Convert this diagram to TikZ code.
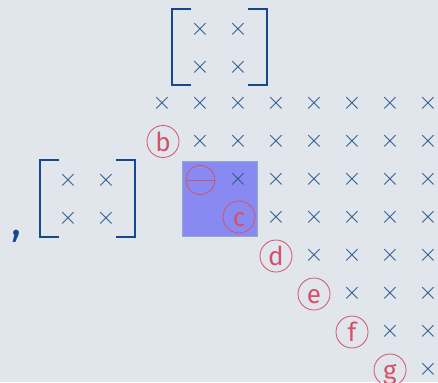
\documentclass[tikz,border=0pt]{standalone}
\usepackage{fontspec}
\setmainfont{Fira Sans}
\definecolor{bgc}{RGB}{225,230,237}
\definecolor{crossc}{RGB}{40,88,140}
\definecolor{brackc}{RGB}{22,72,140}
\definecolor{redc}{RGB}{212,82,104}
\definecolor{fillc}{RGB}{136,138,242}
\definecolor{edgec}{RGB}{150,168,200}
\tikzset{
  crs/.style={text=crossc, font=\fontsize{28}{30}\selectfont, inner sep=0pt},
  circlab/.style={circle, draw=redc, text=redc, line width=0.8pt, minimum size=32pt, inner sep=0pt,
    font=\fontsize{26}{30}\selectfont, text height=19pt, text depth=0pt},
  brk/.style={draw=brackc, line width=2pt},
}
\begin{document}
\begin{tikzpicture}[x=1pt,y=-1pt]
\fill[bgc] (0,0) rectangle (438,382);
\useasboundingbox (0,0) rectangle (438,382);
% highlighted block
\filldraw[fill=fillc, draw=edgec, line width=0.8pt] (182,161) rectangle (257,236);
% main grid crosses
\foreach \r in {0,...,7}{
  \foreach \c in {\r,...,7}{
    \node[crs] (x\r\c) at ({162+38*\c},{103+38.1*\r}) {$\times$};
  }
}
% circled labels
\node[circlab] (lb) at (163,141.5) {b};
\node[circle, draw=redc, line width=0.8pt, minimum size=29pt, inner sep=0pt] (lminus) at (200.5,180) {};
\draw[redc, line width=0.8pt] (lminus.west) -- (lminus.east);
\node[circlab] (lc) at (239,217) {c};
\node[circlab] (ld) at (276,256) {d};
\node[circlab] (le) at (314,294) {e};
\node[circlab] (lf) at (352,332) {f};
\node[circlab] (lg) at (390,370) {g};
% top matrix
\node[crs] (t11) at (200,29) {$\times$};
\node[crs] (t12) at (238,29) {$\times$};
\node[crs] (t21) at (200,67) {$\times$};
\node[crs] (t22) at (238,67) {$\times$};
\draw[brk] (191,9) -- (172,9) -- (172,85) -- (191,85);
\draw[brk] (248,9) -- (267,9) -- (267,85) -- (248,85);
% left matrix
\node[crs] (l11) at (68,180) {$\times$};
\node[crs] (l12) at (106,180) {$\times$};
\node[crs] (l21) at (68,218) {$\times$};
\node[crs] (l22) at (106,218) {$\times$};
\draw[brk] (59,160) -- (40,160) -- (40,237) -- (59,237);
\draw[brk] (116,160) -- (135,160) -- (135,237) -- (116,237);
% comma
\node[text=brackc, font=\fontsize{42}{42}\selectfont, inner sep=0pt, anchor=base] (comma) at (17,235) {,};
\end{tikzpicture}
\end{document}
